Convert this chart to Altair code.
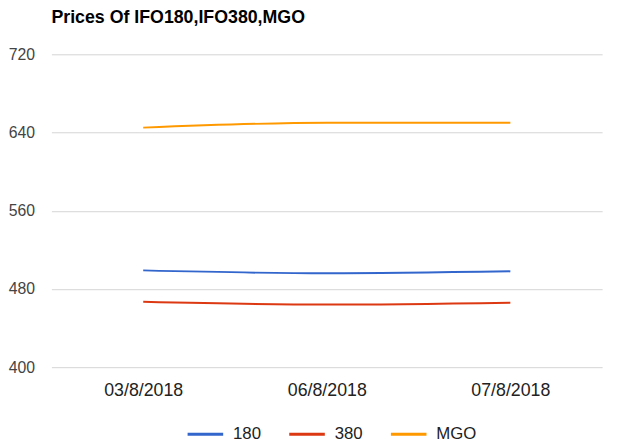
import altair as alt
import pandas as pd

dates = ["03/8/2018", "06/8/2018", "07/8/2018"]
ifo180 = [499, 496, 498]
ifo380 = [467, 464, 466]
mgo = [645, 650, 650]
series_names = ["180", "380", "MGO"]
colors = ["#3366cc", "#dc3912", "#ff9900"]
y_ticks = [400, 480, 560, 640, 720]

rows = []
for name, vals in zip(series_names, [ifo180, ifo380, mgo]):
    for d, v in zip(dates, vals):
        rows.append({"date": d, "series": name, "price": v})
df = pd.DataFrame(rows)

chart = alt.Chart(df).mark_line(strokeWidth=2, interpolate="monotone").encode(
    x=alt.X("date:N", sort=dates, title=None,
            scale=alt.Scale(paddingInner=0, paddingOuter=0.5),
            axis=alt.Axis(labelAngle=0, domain=False, ticks=False, grid=False,
                          labelPadding=15, labelFontSize=18, labelColor="#222",
                          labelFont="Liberation Sans")),
    y=alt.Y("price:Q", title=None,
            scale=alt.Scale(domain=[400, 720], nice=False, zero=False),
            axis=alt.Axis(values=y_ticks, domain=False, ticks=False,
                          labelPadding=17, labelFontSize=16, labelColor="#444",
                          labelFont="Liberation Sans", gridColor="#d4d4d4")),
    color=alt.Color("series:N", sort=series_names,
                    scale=alt.Scale(domain=series_names, range=colors),
                    legend=alt.Legend(title=None, orient="none", direction="horizontal",
                                      legendX=136, legendY=365,
                                      symbolType="stroke", symbolSize=1300,
                                      symbolStrokeWidth=3, labelFontSize=17,
                                      labelColor="#222", labelFont="Liberation Sans",
                                      labelOffset=8, columnPadding=21)),
).properties(
    width=558,
    height=317,
    title=alt.TitleParams("Prices Of IFO180,IFO380,MGO", anchor="start", fontSize=18,
                          fontWeight="bold", font="Liberation Sans", color="#000",
                          frame="group", offset=20),
    autosize=alt.AutoSizeParams(type="none"),
    padding={"left": 44, "top": 44, "right": 10, "bottom": 80},
).configure_view(stroke=None)

chart.save("out.html", embed_options={"renderer": "svg", "actions": False})
